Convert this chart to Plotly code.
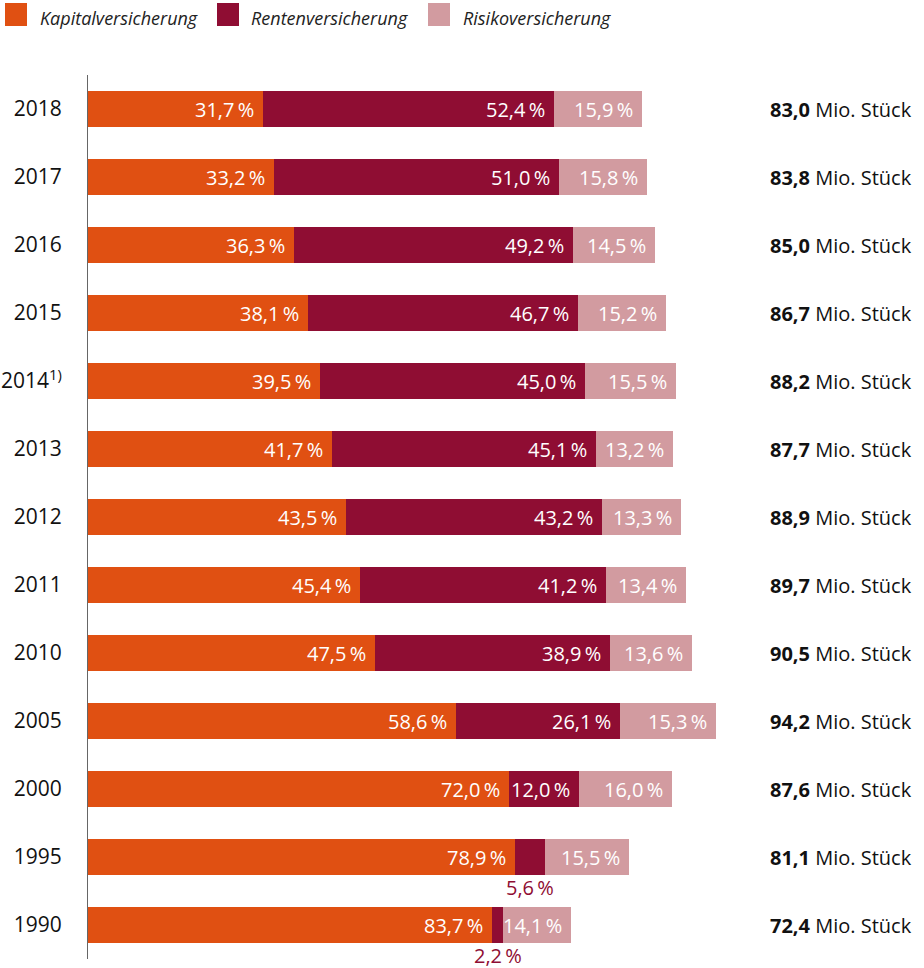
import plotly.graph_objects as go

# ---- data ----
years = ["2018", "2017", "2016", "2015", "2014", "2013", "2012", "2011",
         "2010", "2005", "2000", "1995", "1990"]
year_labels = ["2018", "2017", "2016", "2015", "2014<sup>1)</sup>", "2013", "2012",
               "2011", "2010", "2005", "2000", "1995", "1990"]
kapital = [31.7, 33.2, 36.3, 38.1, 39.5, 41.7, 43.5, 45.4, 47.5, 58.6, 72.0, 78.9, 83.7]
renten = [52.4, 51.0, 49.2, 46.7, 45.0, 45.1, 43.2, 41.2, 38.9, 26.1, 12.0, 5.6, 2.2]
risiko = [15.9, 15.8, 14.5, 15.2, 15.5, 13.2, 13.3, 13.4, 13.6, 15.3, 16.0, 15.5, 14.1]
total = [83.0, 83.8, 85.0, 86.7, 88.2, 87.7, 88.9, 89.7, 90.5, 94.2, 87.6, 81.1, 72.4]
series_names = ["Kapitalversicherung", "Rentenversicherung", "Risikoversicherung"]
colors = ["#E05012", "#8F0D33", "#D29BA0"]
unit = "Mio. Stück"

FONT = "Open Sans"
W, H = 924, 968
ML, MR, MT, MB = 88, 10, 75, 9
PW, PH = W - ML - MR, H - MT - MB
SCALE = 6.67  # px per Mio. Stück
XMAX = PW / SCALE


def fmt(v):
    return f"{v:.1f}".replace(".", ",")


def px_x(p):
    return (p - ML) / PW


def px_y(p):
    return (H - MB - p) / PH


fig = go.Figure()
series = [kapital, renten, risiko]
for name, vals, col in zip(series_names, series, colors):
    fig.add_trace(go.Bar(
        y=list(range(len(years))), x=[v * t / 100 for v, t in zip(vals, total)],
        orientation="h", name=name, marker=dict(color=col, line=dict(width=0)),
        showlegend=False, hoverinfo="skip",
    ))

annotations = []
for i, yr in enumerate(years):
    cum = 0
    for s, vals in enumerate(series):
        w = vals[i] * total[i] / 100
        start = cum
        cum += w
        label = fmt(vals[i]) + "\u2009%"
        if s == 1 and vals[i] < 10:
            annotations.append(dict(
                x=start + w / 2, y=i, xref="x", yref="y", text=label,
                showarrow=False, xanchor="center", yanchor="middle", yshift=-30,
                borderpad=0,
                font=dict(family=FONT, size=20, color=colors[1])))
        else:
            annotations.append(dict(
                x=cum, y=i, xref="x", yref="y", text=label,
                showarrow=False, xanchor="right", yanchor="middle", xshift=-7,
                font=dict(family=FONT, size=20, color="white")))
    annotations.append(dict(
        x=1, y=i, xref="paper", yref="y",
        text=f"<b>{fmt(total[i])}</b> {unit}", showarrow=False,
        xanchor="right", yanchor="middle",
        font=dict(family=FONT, size=20, color="#111111")))

# manual legend
shapes = []
leg_sq_x = [5, 217, 428]
leg_tx_x = [38, 249, 461]
for name, col, sx, tx in zip(series_names, colors, leg_sq_x, leg_tx_x):
    shapes.append(dict(type="rect", xref="paper", yref="paper",
                       x0=px_x(sx), x1=px_x(sx + 22), y0=px_y(26), y1=px_y(3),
                       fillcolor=col, line=dict(width=0)))
    annotations.append(dict(
        x=px_x(tx), y=px_y(18), xref="paper", yref="paper",
        text=f"<i>{name}</i>", showarrow=False, xanchor="left", yanchor="middle",
        font=dict(family=FONT, size=18, color="#222222")))

fig.update_layout(
    width=W, height=H, margin=dict(l=ML, r=MR, t=MT, b=MB, autoexpand=False),
    barmode="stack", bargap=0.47,
    plot_bgcolor="white", paper_bgcolor="white",
    annotations=annotations, shapes=shapes,
    xaxis=dict(range=[0, XMAX], showticklabels=False, showline=False, ticks="",
               showgrid=False, zeroline=False, automargin=False),
    yaxis=dict(
        range=[len(years) - 0.5, -0.5], automargin=False,
        tickmode="array", tickvals=list(range(len(years))), ticktext=year_labels,
        showline=True, linecolor="#666666", linewidth=1,
        showgrid=False, zeroline=False, ticks="", ticklabelstandoff=21,
        tickfont=dict(family=FONT, size=21, color="#111111"),
    ),
)

fig.write_html("out.html")
